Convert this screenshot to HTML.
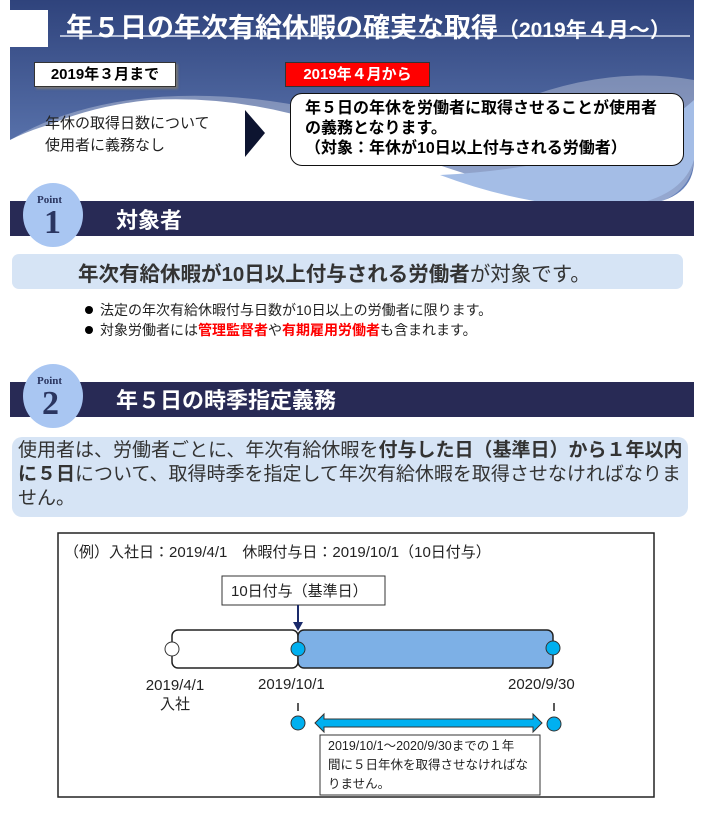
<!DOCTYPE html>
<html><head><meta charset="utf-8"><style>
body{margin:0;width:708px;height:815px;background:#fff;position:relative;overflow:hidden;font-family:"Liberation Sans","Noto Sans CJK JP",sans-serif;}
.a{position:absolute;white-space:nowrap;}
.b{font-weight:bold;}
</style></head><body>
<svg class="a" style="left:0;top:0" width="708" height="815">
<defs>
<linearGradient id="g" x1="0" y1="0" x2="0" y2="1"><stop offset="0" stop-color="#2f437c"/><stop offset="1" stop-color="#6a86bf"/></linearGradient>
</defs>
<path d="M10 0 H694 V160 Q694 200 640 205 Q560 215 460 180 L300 150 Q200 120 120 115 Q60 115 10 140 Z" fill="url(#g)"/>
<path d="M10 140 Q60 110 130 100 Q220 88 320 110 Q430 140 520 100 Q610 65 694 80 L694 160 Q690 205 620 210 Q540 215 450 185 L300 150 Q200 125 120 118 Q60 118 10 145Z" fill="#fff" opacity="0.3"/>
<path d="M10 145 Q70 108 150 100 Q240 95 330 125 Q430 165 520 190 L10 200Z" fill="#fff"/>
<path d="M440 175 Q520 205 600 208 Q680 205 694 160 L694 100 Q650 140 560 160 Q500 172 440 175Z" fill="#a4bde6"/>
<rect x="10" y="10" width="38" height="37" fill="#fff"/>
<line x1="60" y1="36" x2="690" y2="36" stroke="#dfe6f3" stroke-width="1.5"/>
<polygon points="245,110 265,133 245,157" fill="#0d1430"/>
<rect x="10" y="201" width="684" height="35" fill="#282a55"/>
<ellipse cx="53" cy="215" rx="30" ry="32" fill="#a9c6f2"/>
<rect x="10" y="382" width="684" height="35" fill="#282a55"/>
<ellipse cx="53" cy="396" rx="30" ry="32" fill="#a9c6f2"/>
<rect x="12" y="254" width="671" height="35" rx="7" fill="#d6e4f5"/>
<rect x="12" y="437" width="676" height="80" rx="10" fill="#d6e4f5"/>
<circle cx="89" cy="310" r="4" fill="#000"/><circle cx="89" cy="330" r="4" fill="#000"/>
<rect x="58" y="533" width="596" height="264" fill="none" stroke="#222" stroke-width="1.5"/>
<rect x="222" y="576" width="163" height="29" fill="#fff" stroke="#333"/>
<line x1="298" y1="605" x2="298" y2="624" stroke="#1a2a6a" stroke-width="2"/>
<polygon points="293,622 303,622 298,631" fill="#1a2a6a"/>
<rect x="172" y="630" width="126" height="38" rx="6" fill="#fff" stroke="#222" stroke-width="1.5"/>
<rect x="298" y="630" width="255" height="38" rx="6" fill="#7db0e6" stroke="#222" stroke-width="1.5"/>
<circle cx="172" cy="649" r="7" fill="#fff" stroke="#333"/>
<circle cx="298" cy="649" r="7" fill="#00b0f0" stroke="#333"/>
<circle cx="553" cy="648" r="7" fill="#00b0f0" stroke="#333"/>
<line x1="298" y1="703" x2="298" y2="711" stroke="#222" stroke-width="1.5"/>
<line x1="554" y1="703" x2="554" y2="711" stroke="#222" stroke-width="1.5"/>
<circle cx="298" cy="723" r="7" fill="#00b0f0" stroke="#333"/>
<circle cx="554" cy="724" r="7" fill="#00b0f0" stroke="#333"/>
<polygon points="315,723 324,714 324,719 533,719 533,714 542,723 533,732 533,727 324,727 324,732" fill="#00b0f0" stroke="#333"/>
<rect x="320" y="735" width="220" height="60" fill="#fff" stroke="#333"/>
</svg>
<div class="a b" style="left:66px;top:6px;font-size:27px;color:#fff;">年５日の年次有給休暇の確実な取得<span style="font-size:21px">（2019年４月～）</span></div>
<div class="a b" style="left:34px;top:62px;width:140px;height:23px;border:1px solid #333;background:#fff;font-size:15px;line-height:23px;text-align:center;box-shadow:2px 2px 2px #777;">2019年３月まで</div>
<div class="a b" style="left:285px;top:62px;width:143px;height:23px;border:1px solid #333;background:#f00;color:#fff;font-size:15px;line-height:23px;text-align:center;">2019年４月から</div>
<div class="a" style="left:45px;top:113px;font-size:15px;line-height:22px;color:#222;">年休の取得日数について<br>使用者に義務なし</div>
<div class="a b" style="left:290px;top:93px;width:378px;height:66px;border:1.5px solid #111;border-radius:12px;background:#fff;padding:5px 0 0 14px;font-size:16px;line-height:20px;">年５日の年休を労働者に取得させることが使用者<br>の義務となります。<br>（対象：年休が10日以上付与される労働者）</div>
<div class="a b" style="left:37px;top:194px;font-size:11px;color:#2a3560;font-family:'Liberation Serif',serif;">Point</div>
<div class="a b" style="left:44px;top:204px;font-size:34px;color:#2a3560;font-family:'Liberation Serif',serif;">1</div>
<div class="a b" style="left:116px;top:203px;font-size:22px;color:#fff;">対象者</div>
<div class="a b" style="left:78px;top:257px;font-size:20.5px;color:#333;">年次有給休暇が10日以上付与される労働者<span style="font-weight:normal">が対象です。</span></div>
<div class="a" style="left:100px;top:300px;font-size:14px;color:#222;">法定の年次有給休暇付与日数が10日以上の労働者に限ります。</div>
<div class="a" style="left:100px;top:320px;font-size:14px;color:#222;">対象労働者には<b style="color:#f00">管理監督者</b>や<b style="color:#f00">有期雇用労働者</b>も含まれます。</div>
<div class="a b" style="left:37px;top:375px;font-size:11px;color:#2a3560;font-family:'Liberation Serif',serif;">Point</div>
<div class="a b" style="left:42px;top:385px;font-size:34px;color:#2a3560;font-family:'Liberation Serif',serif;">2</div>
<div class="a b" style="left:116px;top:383px;font-size:22px;color:#fff;">年５日の時季指定義務</div>
<div class="a" style="left:18px;top:439px;font-size:19px;line-height:24px;color:#333;">使用者は、労働者ごとに、年次有給休暇を<b>付与した日（基準日）から１年以内</b><br><b>に５日</b>について、取得時季を指定して年次有給休暇を取得させなければなりま<br>せん。</div>
<div class="a" style="left:64px;top:541px;font-size:15px;color:#222;">（例）入社日：2019/4/1　休暇付与日：2019/10/1（10日付与）</div>
<div class="a" style="left:231px;top:580px;font-size:15px;color:#222;">10日付与（基準日）</div>
<div class="a" style="left:137px;top:676px;font-size:15px;color:#222;text-align:center;width:76px;line-height:19px;">2019/4/1<br>入社</div>
<div class="a" style="left:258px;top:676px;font-size:15px;color:#222;">2019/10/1</div>
<div class="a" style="left:508px;top:676px;font-size:15px;color:#222;">2020/9/30</div>
<div class="a" style="left:328px;top:737px;font-size:12.5px;line-height:19px;color:#222;">2019/10/1～2020/9/30までの１年<br>間に５日年休を取得させなければな<br>りません。</div>
</body></html>
